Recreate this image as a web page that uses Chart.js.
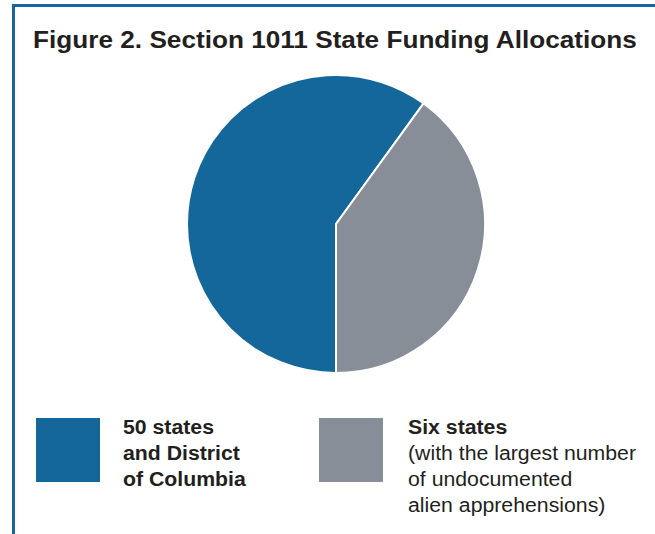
<!DOCTYPE html>
<html lang="en">
<head>
    <meta charset="UTF-8">
    <title>Section 1011 State Funding Allocations</title>
    <style>
        body {
            margin: 0;
            padding: 0;
            background: #ffffff;
            font-family: "Liberation Sans", Arial, sans-serif;
            color: #231f20;
        }

        .frame {
            position: absolute;
            left: 12px;
            top: 4px;
            width: 660px;
            height: 560px;
            border-top: 3px solid #16669c;
            border-left: 3px solid #16669c;
        }

        h1 {
            position: absolute;
            left: 0;
            top: 26px;
            width: 670px;
            margin: 0;
            text-align: center;
            font-size: 24px;
            font-weight: bold;
            color: #231f20;
            white-space: nowrap;
            transform: scaleX(1.09); /* original type is set a bit wide */
        }

        .pie-box {
            position: absolute;
            left: 186px;
            top: 74px;
            width: 300px;
            height: 300px;
        }

        .legend-item {
            position: absolute;
            top: 418px;
        }

        .swatch {
            position: absolute;
            top: 0;
            width: 64px;
            height: 64px;
        }

        .legend-text {
            position: absolute;
            top: -4px;
            font-size: 19.5px;
            line-height: 26px;
            white-space: nowrap;
            transform: scaleX(1.09);
            transform-origin: left top;
        }

        .legend-text b {
            font-weight: bold;
        }
    </style>
</head>
<body>
    <div class="frame"></div>
    <h1 id="title"></h1>
    <div class="pie-box"><canvas id="pie"></canvas></div>
    <div id="legend"></div>

    <script src="https://cdn.jsdelivr.net/npm/chart.js"></script>
    <script>
        // share of funding (percent)
        const labels = ['50 states and District of Columbia', 'Six states'];
        const shares = [60, 40];
        const colors = ['#13679a', '#878e97'];
        // legend text: first line bold, the rest regular
        const legendBold = [['50 states', 'and District', 'of Columbia'], ['Six states']];
        const legendPlain = [[], ['(with the largest number', 'of undocumented', 'alien apprehensions)']];
        const legendLeft = [36, 319];

        document.getElementById('title').textContent = 'Figure 2. Section 1011 State Funding Allocations';

        const ctx = document.getElementById('pie').getContext('2d');
        new Chart(ctx, {
            type: 'pie',
            data: {
                labels: labels,
                datasets: [{
                    data: shares,
                    backgroundColor: colors,
                    borderColor: '#ffffff',
                    borderWidth: 2
                }]
            },
            options: {
                responsive: true,
                maintainAspectRatio: false,
                animation: false,
                rotation: 180,
                layout: { padding: 0 },
                plugins: {
                    legend: { display: false },
                    tooltip: { enabled: false }
                }
            }
        });

        // legend built by hand, the original has multi-line labels
        let html = '';
        labels.forEach((label, i) => {
            let lines = legendBold[i].map(t => '<b>' + t + '</b>').concat(legendPlain[i]);
            html += '<div class="legend-item" style="left:' + legendLeft[i] + 'px">'
                + '<div class="swatch" style="left:0;background:' + colors[i] + '"></div>'
                + '<div class="legend-text" style="left:' + (i === 0 ? 87 : 89) + 'px">' + lines.join('<br>') + '</div>'
                + '</div>';
        });
        document.getElementById('legend').innerHTML = html;
    </script>
</body>
</html>
